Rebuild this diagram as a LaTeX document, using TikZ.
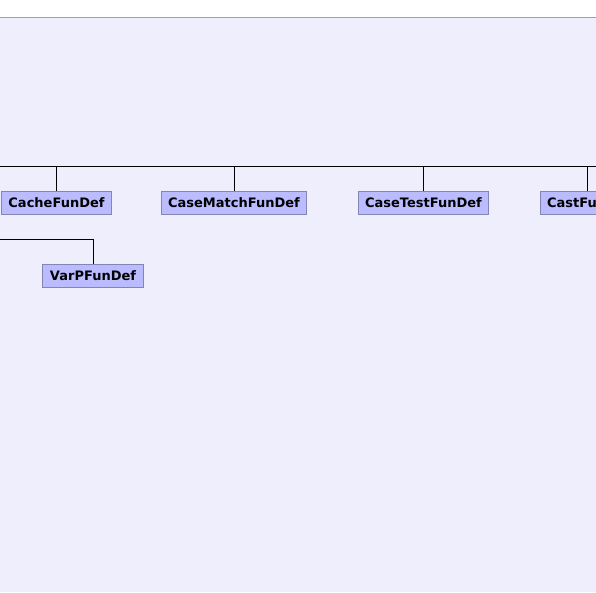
\documentclass[tikz,border=0pt]{standalone}
\usepackage{fontspec}
\setsansfont{DejaVu Sans}
\usetikzlibrary{positioning}
\definecolor{bgfill}{HTML}{EEEEFC}
\definecolor{boxfill}{HTML}{BBBBFF}
\definecolor{boxline}{HTML}{8585B5}
\definecolor{rulegray}{HTML}{A0A0AA}
\tikzset{fundef/.style={draw=boxline, fill=boxfill, line width=1pt,
  font=\sffamily\bfseries\fontsize{13}{15}\selectfont,
  minimum height=23pt, inner xsep=7pt, inner ysep=0pt},
  link/.style={line width=1pt, black}}

\begin{document}
\begin{tikzpicture}[x=1pt,y=-1pt]
  \useasboundingbox (0,0) rectangle (596,592);
  \clip (0,0) rectangle (596,592);
  \fill[bgfill] (0,17) rectangle (596,592);
  \draw[rulegray, line width=1pt] (0,17) -- (596,17); % top rule
  \node[fundef] (cache) at (56.5,202.5) {CacheFunDef};
  \node[fundef] (casematch) at (234,202.5) {CaseMatchFunDef};
  \node[fundef] (casetest) at (423.5,202.5) {CaseTestFunDef};
  \node[fundef, anchor=west] (cast) at (539.5,202.5) {CastFunDef};
  \node[fundef] (varp) at (93,276) {VarPFunDef};
  \coordinate (busL) at (0,166);
  \coordinate (busR) at (596,166);
  \coordinate (subL) at (0,239);
  \coordinate (castdrop) at (587,166);
  \draw[link] (busL) -- (busR); % upper bus
  \draw[link] (cache.north) -- (cache.north |- busL);
  \draw[link] (casematch.north) -- (casematch.north |- busL);
  \draw[link] (casetest.north) -- (casetest.north |- busL);
  \draw[link] (castdrop) -- (castdrop |- cast.north);
  \draw[link] (subL) -| (varp.north); % lower branch
\end{tikzpicture}
\end{document}
